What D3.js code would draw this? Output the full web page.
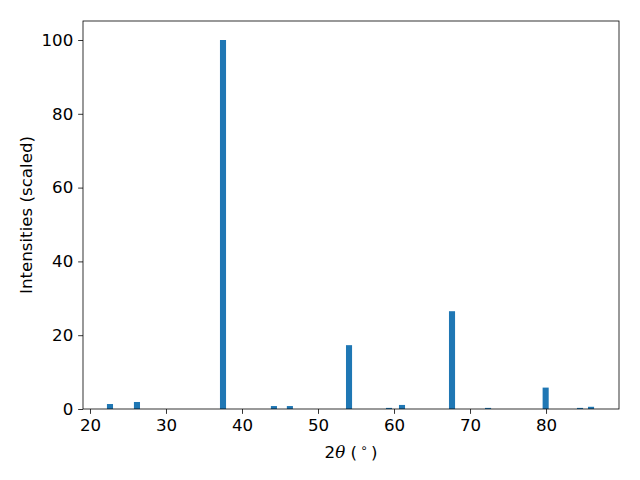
<!DOCTYPE html>
<html><head><meta charset="utf-8">
<script src="https://cdn.jsdelivr.net/npm/d3@7"></script>
<style>body{margin:0;background:#fff}svg{display:block}text{font-family:"DejaVu Sans",sans-serif}</style>
</head><body>
<script>
const angles = [22.63, 26.18, 37.5, 44.2, 46.3, 54.08, 59.34, 61.05, 67.63, 72.37, 79.95, 84.47, 85.92];
const intensities = [1.35, 1.9, 100, 0.8, 0.8, 17.3, 0.3, 1.1, 26.5, 0.3, 5.8, 0.3, 0.6];
const xTicks = [20, 30, 40, 50, 60, 70, 80];
const yTicks = [0, 20, 40, 60, 80, 100];
const barWidth = 0.8;

const W = 640, H = 480;
const m = {left: 83, right: 619, top: 21, bottom: 409};
const svg = d3.select("body").append("svg").attr("width", W).attr("height", H);
const x = d3.scaleLinear().domain([19.08, 89.6]).range([m.left, m.right]);
const y = d3.scaleLinear().domain([0, 105.15]).range([m.bottom, m.top]);

svg.append("g").selectAll("rect").data(angles).join("rect")
  .attr("x", (d) => x(d - barWidth / 2))
  .attr("width", (d) => x(d + barWidth / 2) - x(d - barWidth / 2))
  .attr("y", (d, i) => y(intensities[i]))
  .attr("height", (d, i) => y(0) - y(intensities[i]))
  .attr("fill", "#1f77b4");

const fs = "16.67px";
const xa = svg.append("g").attr("transform", `translate(0,${m.bottom})`)
  .call(d3.axisBottom(x).tickValues(xTicks).tickSize(4.86).tickPadding(4.86).tickFormat(d3.format("d")));
const ya = svg.append("g").attr("transform", `translate(${m.left},0)`)
  .call(d3.axisLeft(y).tickValues(yTicks).tickSize(4.86).tickPadding(4.86).tickFormat(d3.format("d")));
[xa, ya].forEach(a => {
  a.select(".domain").remove();
  a.selectAll("text").attr("font-size", fs).attr("fill", "#000").attr("font-family", "DejaVu Sans");
  a.selectAll("line").attr("stroke", "#000").attr("stroke-width", 0.8);
});

svg.append("rect").attr("x", m.left).attr("y", m.top)
  .attr("width", m.right - m.left).attr("height", m.bottom - m.top)
  .attr("fill", "none").attr("stroke", "#000").attr("stroke-width", 0.8);

const xl = svg.append("text").attr("x", 351).attr("y", 458)
  .attr("text-anchor", "middle").attr("font-size", fs);
xl.append("tspan").text("2");
xl.append("tspan").attr("font-style", "italic").attr("font-family", "DejaVu Serif").text("θ");
xl.append("tspan").text(" (\u2009");
xl.append("tspan").attr("font-size", "11.7px").attr("dy", -6).text("∘");
xl.append("tspan").attr("dy", 6).text("\u2009)");

svg.append("text").attr("transform", `translate(32,${(m.top + m.bottom) / 2}) rotate(-90)`)
  .attr("text-anchor", "middle").attr("font-size", fs).text("Intensities (scaled)");
</script>
</body></html>
